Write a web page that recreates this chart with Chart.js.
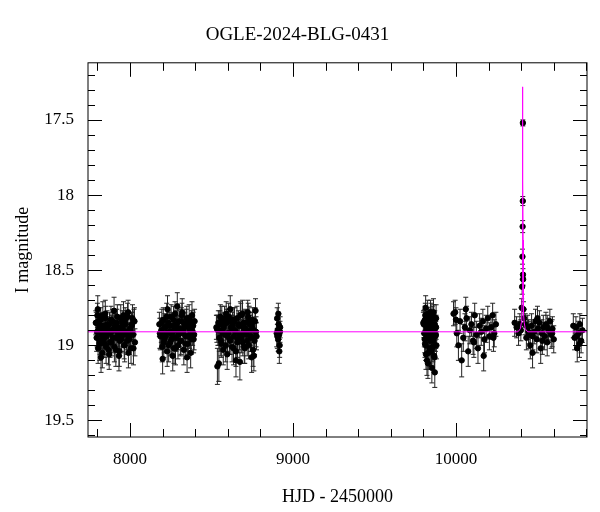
<!DOCTYPE html>
<html><head><meta charset="utf-8">
<script src="https://cdn.jsdelivr.net/npm/chart.js@4"></script>
<style>html,body{margin:0;padding:0;background:#fff}#w{width:600px;height:512px}</style>
</head><body><div id="w"><canvas id="c"></canvas></div>
<script>
const hjd = [
7790,7795,7800,7804,7808,7812,7816,7820,7825,7830,7835,7840,7845,7850,7856,7862,7868,7874,7880,7886,7892,7898,7904,7910,7916,7922,7928,7934,7940,7946,7952,7958,7964,7970,7976,7982,7988,7994,8000,8006,8012,8018,8024,8030,7802,7822,7848,7872,7902,7932,7960,7990,8015,
8180,8186,8192,8198,8204,8210,8216,8222,8228,8234,8240,8246,8252,8258,8264,8270,8276,8282,8288,8294,8300,8306,8312,8318,8324,8330,8336,8342,8348,8354,8360,8366,8372,8378,8384,8390,8396,8200,8230,8262,8290,8320,8350,8380,
8530,8536,8542,8548,8554,8560,8566,8572,8578,8584,8590,8596,8602,8608,8614,8620,8626,8632,8638,8644,8650,8656,8662,8668,8674,8680,8686,8692,8698,8704,8710,8716,8722,8728,8734,8740,8746,8752,8758,8764,8770,8776,8545,8580,8615,8650,8690,8725,8760,
8900,8903,8906,8909,8912,8915,8918,8921,8904,8910,8916,8920,
9800,9804,9808,9812,9816,9820,9824,9828,9832,9836,9840,9844,9848,9852,9856,9860,9864,9868,9872,9876,9880,9806,9814,9822,9830,9838,9846,9854,9862,9870,9878,9810,9826,9842,9858,9874,
9985,9995,10005,10015,10025,10035,10045,10055,10065,10075,10085,10095,10105,10115,10125,10135,10145,10155,10165,10175,10185,10195,10205,10215,10225,10235,10245,10000,10060,10110,10170,10230,
10360,10372,10384,10392,10398,10403,10406,10408,10409,10410,10410.5,10411,10412,10414,10418,10425,10432,10440,10448,10456,10464,10472,10480,10488,10496,10504,10512,10520,10528,10536,10544,10552,10560,10568,10576,10584,10592,10600,10445,10470,10500,10530,10560,10590,
10720,10728,10736,10744,10752,10760,10768,10776,10740,10758,
7793,7798,7807,7814,7819,7827,7833,7838,7843,7853,7859,7865,7877,7883,7889,7895,7907,7913,7919,7925,7937,7943,7949,7955,7967,7973,7979,7985,7997,8003,8009,8021,8027,
8183,8189,8195,8207,8213,8219,8225,8237,8243,8249,8255,8267,8273,8279,8285,8297,8303,8309,8315,8327,8333,8339,8345,8357,8363,8369,8375,8387,8393,
8533,8539,8551,8557,8563,8569,8575,8587,8593,8599,8605,8611,8623,8629,8635,8641,8647,8659,8665,8671,8677,8683,8695,8701,8707,8713,8719,8731,8737,8743,8749,8755,8767,8773,
9802,9806,9810,9814,9818,9822,9826,9830,9834,9838,9842,9846,9850,9854,9858,9862,9866,9870,9874,9878
];
const mag = [
18.85,18.95,18.80,19.02,18.90,18.88,18.97,18.83,18.93,19.05,18.87,18.91,18.99,18.82,18.94,18.89,19.03,18.86,18.92,18.98,18.84,18.90,19.01,18.87,18.95,18.81,18.93,19.04,18.88,18.96,18.85,18.92,19.00,18.83,18.91,18.97,18.78,18.94,18.89,19.02,18.86,18.93,18.84,18.98,18.76,19.08,18.79,19.06,18.77,19.07,18.80,19.05,18.82,
18.86,18.94,18.90,19.01,18.83,18.96,18.88,18.92,19.04,18.85,18.91,18.98,18.81,18.93,18.87,19.02,18.79,18.95,18.89,19.00,18.84,18.92,18.97,18.80,18.90,19.03,18.86,18.94,18.82,18.99,18.88,18.93,19.05,18.85,18.91,18.96,18.84,19.09,18.76,19.07,18.74,18.78,19.08,18.80,
18.88,19.14,18.85,18.95,18.81,18.99,18.90,19.03,18.86,18.93,18.79,19.06,18.92,18.84,18.97,18.88,19.01,18.83,18.94,18.90,19.04,18.82,18.96,18.87,19.11,18.80,18.92,18.98,18.85,19.02,18.89,18.93,18.78,19.00,18.86,18.95,19.08,18.83,18.90,18.97,18.77,18.94,19.12,18.82,18.76,19.10,18.79,18.81,19.07,18.92,
18.82,18.90,18.96,18.86,18.93,19.00,18.88,18.94,18.79,19.04,18.91,18.85,
18.85,18.96,18.80,19.06,18.90,18.88,19.12,18.83,18.94,19.02,18.78,18.91,19.15,18.86,18.97,18.81,19.08,18.89,18.93,19.00,18.84,18.75,19.10,18.92,18.87,19.04,18.82,18.95,19.18,18.88,18.99,18.90,18.86,19.01,18.93,18.79,
18.78,18.92,19.00,18.84,19.10,18.95,18.88,18.82,19.04,18.90,18.86,18.97,18.80,18.93,19.02,18.87,18.91,18.84,18.96,18.89,18.82,18.94,18.88,18.80,18.92,18.86,18.83,18.76,18.98,19.07,18.95,18.85,
18.88,18.92,18.86,18.90,18.75,18.61,18.41,18.21,18.04,17.52,18.53,18.56,18.76,18.82,18.86,18.95,18.88,18.93,19.00,18.87,18.94,18.91,18.84,18.96,18.89,18.85,19.02,18.92,18.88,18.94,18.86,18.98,18.90,18.84,18.93,18.89,18.96,18.91,19.05,18.82,18.97,18.88,18.92,18.87,
18.95,18.88,19.02,18.92,18.86,18.97,18.90,18.94,18.99,18.85,
18.91,18.84,18.99,18.87,18.93,18.80,18.96,18.89,19.01,18.86,18.92,18.98,18.83,18.90,18.95,18.88,19.03,18.85,18.91,18.97,18.82,18.94,18.89,19.00,18.86,18.93,18.81,18.96,18.90,18.87,19.02,18.84,18.92,
18.92,18.85,18.98,18.88,18.94,18.81,19.00,18.87,18.91,18.96,18.83,18.90,19.02,18.86,18.93,18.89,18.97,18.84,18.92,18.88,18.99,18.85,18.94,18.82,18.90,18.96,18.87,18.93,18.89,
18.90,18.86,18.97,18.83,18.92,18.88,19.00,18.85,18.94,18.81,18.96,18.89,18.87,19.02,18.84,18.91,18.98,18.86,18.93,18.80,18.95,18.88,19.01,18.85,18.92,18.97,18.83,18.90,18.94,18.87,19.03,18.84,18.91,18.86,
18.92,18.83,19.00,18.87,18.95,18.79,19.05,18.90,18.85,18.97,18.81,19.03,18.88,18.93,18.78,19.07,18.86,18.94,18.82,18.99
];
const err = [
0.08,0.09,0.08,0.10,0.08,0.09,0.09,0.08,0.09,0.10,0.08,0.09,0.09,0.08,0.09,0.08,0.10,0.08,0.09,0.09,0.08,0.09,0.10,0.08,0.09,0.08,0.09,0.10,0.08,0.09,0.08,0.09,0.09,0.08,0.09,0.09,0.08,0.09,0.08,0.10,0.08,0.09,0.08,0.09,0.09,0.10,0.09,0.10,0.09,0.10,0.09,0.10,0.09,
0.08,0.09,0.08,0.10,0.08,0.09,0.08,0.09,0.10,0.08,0.09,0.09,0.08,0.09,0.08,0.10,0.08,0.09,0.08,0.09,0.08,0.09,0.09,0.08,0.08,0.10,0.08,0.09,0.08,0.09,0.08,0.09,0.10,0.08,0.09,0.09,0.08,0.10,0.09,0.10,0.09,0.09,0.10,0.09,
0.08,0.12,0.08,0.09,0.08,0.09,0.08,0.10,0.08,0.09,0.08,0.10,0.09,0.08,0.09,0.08,0.10,0.08,0.09,0.08,0.10,0.08,0.09,0.08,0.12,0.08,0.09,0.09,0.08,0.10,0.08,0.09,0.08,0.09,0.08,0.09,0.10,0.08,0.08,0.09,0.08,0.09,0.12,0.08,0.09,0.11,0.09,0.09,0.10,0.09,
0.07,0.07,0.08,0.07,0.07,0.08,0.07,0.08,0.07,0.08,0.07,0.07,
0.08,0.09,0.08,0.10,0.08,0.08,0.10,0.08,0.09,0.10,0.08,0.09,0.10,0.08,0.09,0.08,0.10,0.08,0.09,0.09,0.08,0.08,0.10,0.09,0.08,0.10,0.08,0.09,0.10,0.08,0.09,0.08,0.08,0.10,0.09,0.08,
0.08,0.09,0.10,0.08,0.11,0.09,0.09,0.08,0.10,0.09,0.08,0.09,0.08,0.09,0.10,0.08,0.09,0.08,0.09,0.09,0.08,0.09,0.08,0.08,0.09,0.08,0.08,0.08,0.10,0.10,0.09,0.09,
0.07,0.08,0.07,0.07,0.06,0.05,0.05,0.04,0.03,0.02,0.04,0.04,0.05,0.06,0.07,0.08,0.08,0.09,0.09,0.08,0.09,0.08,0.08,0.09,0.08,0.08,0.10,0.09,0.08,0.09,0.08,0.09,0.08,0.08,0.09,0.08,0.09,0.08,0.10,0.08,0.09,0.08,0.09,0.08,
0.08,0.07,0.09,0.08,0.07,0.08,0.08,0.08,0.09,0.07,
0.10,0.09,0.11,0.09,0.10,0.09,0.10,0.09,0.11,0.09,0.10,0.10,0.09,0.10,0.10,0.09,0.11,0.09,0.10,0.10,0.09,0.10,0.09,0.11,0.09,0.10,0.09,0.10,0.10,0.09,0.11,0.09,0.10,
0.10,0.09,0.10,0.09,0.10,0.09,0.11,0.09,0.10,0.10,0.09,0.10,0.11,0.09,0.10,0.09,0.10,0.09,0.10,0.09,0.10,0.09,0.10,0.09,0.10,0.10,0.09,0.10,0.09,
0.10,0.09,0.10,0.09,0.10,0.09,0.11,0.09,0.10,0.09,0.10,0.09,0.09,0.11,0.09,0.10,0.10,0.09,0.10,0.09,0.10,0.09,0.11,0.09,0.10,0.10,0.09,0.10,0.10,0.09,0.11,0.09,0.10,0.09,
0.09,0.09,0.10,0.09,0.10,0.09,0.11,0.09,0.09,0.10,0.09,0.11,0.09,0.10,0.09,0.11,0.09,0.10,0.09,0.10
];
const modelT = [7742,10380,10395,10401,10404,10406,10407,10408,10409,10410,10411,10412,10413,10414,10416,10419,10425,10440,10804];
const modelM = [18.91,18.91,18.89,18.85,18.79,18.68,18.55,18.30,17.90,17.28,17.90,18.30,18.55,18.68,18.79,18.85,18.89,18.91,18.91];
const xTicks = [8000,9000,10000];
const yTicks = [17.5,18,18.5,19,19.5];

const pts = hjd.map((t,i)=>({x:t,y:mag[i]}));
const model = modelT.map((t,i)=>({x:t,y:modelM[i]}));

const deco = {
  id:'deco',
  beforeDatasetsDraw(ch){
    const ctx=ch.ctx, xs=ch.scales.x, ys=ch.scales.y;
    ctx.save();
    ctx.strokeStyle='#222'; ctx.lineWidth=1;
    hjd.forEach((t,i)=>{
      const px=xs.getPixelForValue(t), p1=ys.getPixelForValue(mag[i]-err[i]), p2=ys.getPixelForValue(mag[i]+err[i]);
      ctx.beginPath();
      ctx.moveTo(px,p1);ctx.lineTo(px,p2);
      ctx.moveTo(px-2.5,p1);ctx.lineTo(px+2.5,p1);
      ctx.moveTo(px-2.5,p2);ctx.lineTo(px+2.5,p2);
      ctx.stroke();
    });
    ctx.restore();
  },
  afterDraw(ch){
    const ctx=ch.ctx, xs=ch.scales.x, ys=ch.scales.y, a=ch.chartArea;
    ctx.save();
    ctx.strokeStyle='#000'; ctx.lineWidth=1;
    ctx.strokeRect(a.left,a.top,a.right-a.left,a.bottom-a.top);
    ctx.beginPath();
    for(let v=7800; v<=10800; v+=200){
      const px=Math.round(xs.getPixelForValue(v))+0.5;
      const L = (v%1000===0)?14:8;
      ctx.moveTo(px,a.bottom);ctx.lineTo(px,a.bottom-L);
      ctx.moveTo(px,a.top);ctx.lineTo(px,a.top+L);
    }
    for(let k=172; k<=196; k++){
      const v=k/10;
      const py=Math.round(ys.getPixelForValue(v))+0.5;
      const L = (k%5===0)?14:7;
      ctx.moveTo(a.left,py);ctx.lineTo(a.left+L,py);
      ctx.moveTo(a.right,py);ctx.lineTo(a.right-L,py);
    }
    ctx.stroke();
    ctx.restore();
  }
};

const font = 'Liberation Serif';
new Chart(document.getElementById('c'),{
  data:{datasets:[
    {type:'line',data:model,borderColor:'#ff00ff',borderWidth:1,pointRadius:0,fill:false,order:0},
    {type:'scatter',data:pts,backgroundColor:'#000',borderColor:'#000',pointRadius:2.7,order:1}
  ]},
  options:{
    responsive:true,maintainAspectRatio:false,animation:false,
    layout:{padding:{left:8,right:13,top:0,bottom:0}},
    plugins:{legend:{display:false},tooltip:{enabled:false},
      title:{display:true,text:'OGLE-2024-BLG-0431',color:'#000',font:{family:font,size:19,weight:'normal'},padding:{top:24,bottom:16}}},
    scales:{
      x:{type:'linear',min:7742,max:10804,
        afterBuildTicks(s){s.ticks=xTicks.map(v=>({value:v}));},
        afterFit(s){s.height=75;},
        grid:{display:false},border:{display:false},
        ticks:{color:'#000',font:{family:font,size:17},padding:4,maxRotation:0,callback:v=>String(v)},
        title:{display:true,text:'HJD - 2450000',color:'#000',font:{family:font,size:18},padding:{top:0}}},
      y:{type:'linear',reverse:true,min:17.12,max:19.61,
        afterBuildTicks(s){s.ticks=yTicks.map(v=>({value:v}));},
        afterFit(s){s.width=80;},
        grid:{display:false},border:{display:false},
        ticks:{color:'#000',font:{family:font,size:17},padding:6,callback:v=>String(v)},
        title:{display:true,text:'I magnitude',color:'#000',font:{family:font,size:18},padding:{bottom:4}}}
    }
  },
  plugins:[deco]
});
</script></body></html>
